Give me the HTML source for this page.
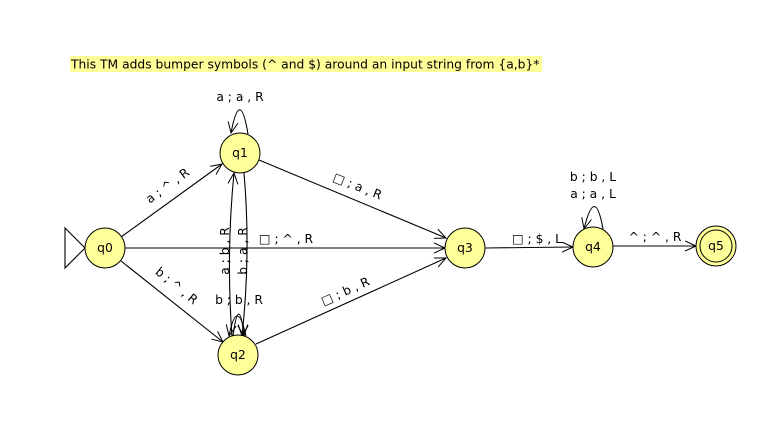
<!DOCTYPE html>
<html><head><style>
body{margin:0;background:#fff;width:784px;height:439px;overflow:hidden}
svg text{font-family:"DejaVu Sans","Liberation Sans",sans-serif;font-size:12.3px;fill:#000}
</style></head><body>
<svg width="784" height="439" xmlns="http://www.w3.org/2000/svg">
<defs>
<marker id="a" markerWidth="12" markerHeight="12" refX="11" refY="6" orient="auto" markerUnits="userSpaceOnUse">
<path d="M0,1 L11,6 L0,11" fill="none" stroke="#000" stroke-width="1"/>
</marker>
</defs>
<rect x="70" y="56" width="472" height="16" fill="#ffff99"/>
<text x="71" y="68.5">This TM adds bumper symbols (^ and $) around an input string from {a,b}*</text>
<g stroke="#000" stroke-width="1.1" fill="none">
<path d="M65,228 L85,248 L65,268 Z"/>
<line x1="121" y1="237" x2="222" y2="164" marker-end="url(#a)"/>
<line x1="121" y1="261" x2="223" y2="342" marker-end="url(#a)"/>
<line x1="125" y1="248" x2="445" y2="248" marker-end="url(#a)"/>
<line x1="259" y1="160" x2="446" y2="238" marker-end="url(#a)"/>
<line x1="256" y1="344" x2="446" y2="258" marker-end="url(#a)"/>
<path d="M232,337 Q226,254 234,173" marker-end="url(#a)"/>
<path d="M244,173 Q251,254 242,336" marker-end="url(#a)"/>
<path d="M248,134 Q240,86 231,133" marker-end="url(#a)"/>
<path d="M246,336 Q237,296 229,336" marker-end="url(#a)"/>
<path d="M233,336 Q239,292 244,336" marker-end="url(#a)"/>
<line x1="485" y1="248" x2="573" y2="247" marker-end="url(#a)"/>
<line x1="613" y1="246" x2="696" y2="246" marker-end="url(#a)"/>
<path d="M603,229 Q595,184 584,229" marker-end="url(#a)"/>
</g>
<g fill="#ffff99" stroke="#000" stroke-width="1">
<circle cx="105" cy="248" r="20"/>
<circle cx="240" cy="153" r="20"/>
<circle cx="238" cy="355" r="20"/>
<circle cx="465" cy="248" r="20"/>
<circle cx="593" cy="247" r="20"/>
<circle cx="716" cy="246" r="20"/>
<circle cx="716" cy="246" r="16"/>
</g>
<g text-anchor="middle">
<text x="105" y="252">q0</text>
<text x="240" y="157">q1</text>
<text x="238" y="359">q2</text>
<text x="465" y="252">q3</text>
<text x="593" y="251">q4</text>
<text x="716" y="250">q5</text>
<text x="240" y="101">a ; a , R</text>
<text x="239" y="304">b ; b , R</text>
<text x="286" y="243">□ ; ^ , R</text>
<text x="537" y="243">□ ; $ , L</text>
<text x="655" y="241">^ ; ^ , R</text>
<text x="593" y="181">b ; b , L</text>
<text x="593" y="198">a ; a , L</text>
<text transform="translate(170,189) rotate(-36)">a ; ^ , R</text>
<text transform="translate(174,289) rotate(39)">b ; ^ , R</text>
<text transform="translate(356,190) rotate(22)">□ ; a , R</text>
<text transform="translate(347,295) rotate(-24)">□ ; b , R</text>
<text transform="translate(229,251) rotate(-90)">a ; b , R</text>
<text transform="translate(247,251) rotate(-90)">b ; a , R</text>
</g>
</svg>
</body></html>
